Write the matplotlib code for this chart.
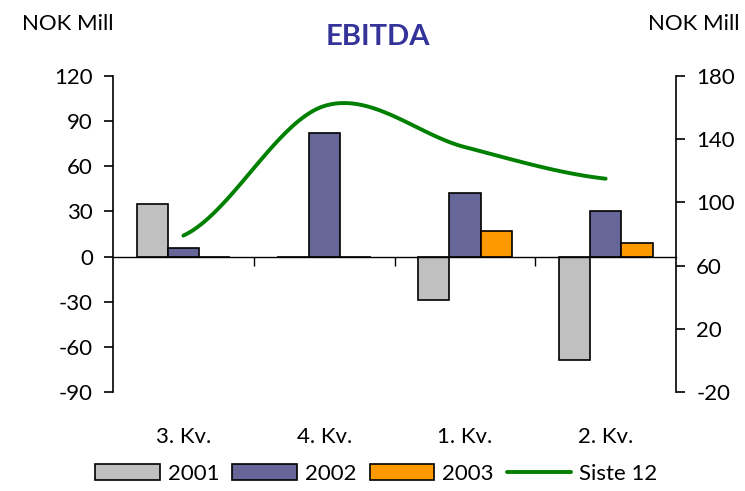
import numpy as np
import matplotlib.pyplot as plt

plt.rcParams['font.family'] = ['Lato', 'DejaVu Sans']
plt.rcParams['axes.unicode_minus'] = False

# data
kvartal = ['3. Kv.', '4. Kv.', '1. Kv.', '2. Kv.']
ebitda_2001 = [35, 0, -29, -69]
ebitda_2002 = [6, 82, 42, 30]
ebitda_2003 = [0, 0, 17, 9]
siste_12 = [79, 161, 135, 115]

left_ticks = [-90, -60, -30, 0, 30, 60, 90, 120]
right_ticks = [-20, 20, 60, 100, 140, 180]


def smooth(y, n=40):
    # Catmull-Rom, same as Excel's "smoothed line"
    p = np.concatenate([[y[0]], y, [y[-1]]]).astype(float)
    xs, ys = [], []
    for i in range(1, len(p) - 2):
        t = np.linspace(0, 1, n)
        p0, p1, p2, p3 = p[i - 1], p[i], p[i + 1], p[i + 2]
        seg = 0.5 * (2 * p1 + (-p0 + p2) * t + (2 * p0 - 5 * p1 + 4 * p2 - p3) * t**2
                     + (-p0 + 3 * p1 - 3 * p2 + p3) * t**3)
        xs.append(i - 1 + t)
        ys.append(seg)
    return np.concatenate(xs), np.concatenate(ys)


fig = plt.figure(figsize=(7.45, 4.91), dpi=100)
ax = fig.add_axes([0.1517, 0.2016, 0.7557, 0.6436])

x = np.arange(len(kvartal))
w = 0.222
b1 = ax.bar(x - w, ebitda_2001, w, color='#C0C0C0', edgecolor='black', linewidth=1.2, label='2001')
b2 = ax.bar(x, ebitda_2002, w, color='#666699', edgecolor='black', linewidth=1.2, label='2002')
b3 = ax.bar(x + w, ebitda_2003, w, color='#FF9900', edgecolor='black', linewidth=1.2, label='2003')

ax.set_xlim(-0.5, 3.5)
ax.set_ylim(-90, 120)
ax.set_yticks(left_ticks)
ax.tick_params(axis='y', direction='out', length=6.5, width=1.2, labelsize=16, pad=8)

ax.spines['top'].set_visible(False)
ax.spines['bottom'].set_position(('data', 0))
ax.spines['bottom'].set_linewidth(1)
ax.spines['left'].set_linewidth(1.2)
ax.spines['right'].set_visible(False)
ax.set_xticks([0.5, 1.5, 2.5])
ax.set_xticklabels([])
ax.tick_params(axis='x', direction='out', length=6.5, width=1)

sec = ax.secondary_xaxis('bottom')
sec.set_xticks(x)
sec.set_xticklabels(kvartal)
sec.tick_params(length=0, labelsize=16, pad=25)
sec.spines['bottom'].set_visible(False)

ax2 = ax.twinx()
ax2.set_ylim(-20, 180)
ax2.set_yticks(right_ticks)
ax2.tick_params(axis='y', direction='out', length=6.5, width=1.2, labelsize=16, pad=8)
for s in ['top', 'left', 'bottom']:
    ax2.spines[s].set_visible(False)
ax2.spines['right'].set_linewidth(1.2)
sx, sy = smooth(siste_12)
ln, = ax2.plot(sx, sy, color='#008000', linewidth=2.8, solid_capstyle='round', label='Siste 12')

fig.text(0.507, 0.925, 'EBITDA', ha='center', va='center', fontsize=21,
         fontweight='bold', color='#333399')
fig.text(0.03, 0.952, 'NOK Mill', ha='left', va='center', fontsize=16)
fig.text(0.992, 0.952, 'NOK Mill', ha='right', va='center', fontsize=16)

fig.legend(handles=[b1, b2, b3, ln], loc='center', bbox_to_anchor=(0.505, 0.035),
           ncol=4, frameon=False, fontsize=16, handlelength=2.9, handleheight=0.75,
           columnspacing=0.6, handletextpad=0.35)

fig.savefig('out.png', dpi=100)
